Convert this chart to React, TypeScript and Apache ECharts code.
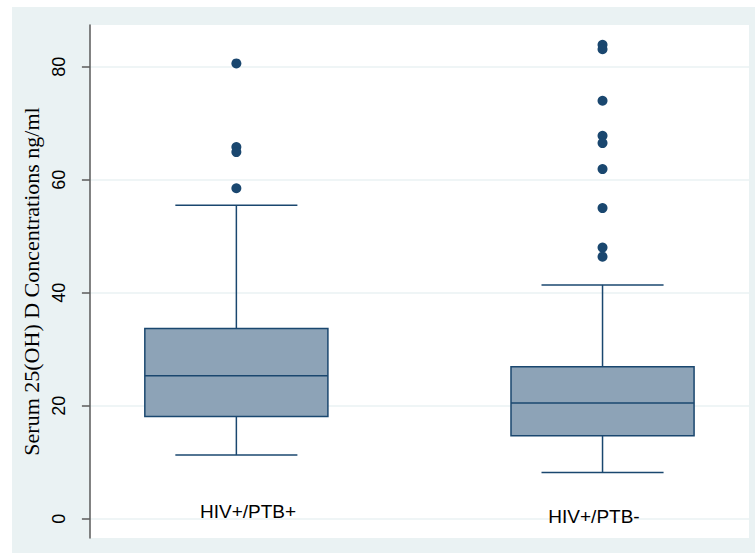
import React, { useEffect, useRef } from "react";
import * as echarts from "echarts";

const categories = ["HIV+/PTB+", "HIV+/PTB-"];
const whiskerLow = [11.3, 8.2];
const q1 = [18.1, 14.7];
const median = [25.3, 20.5];
const q3 = [33.7, 26.9];
const whiskerHigh = [55.5, 41.4];
const outliersA = [80.6, 65.8, 64.9, 58.5];
const outliersB = [83.9, 83.1, 74.0, 67.8, 66.5, 61.9, 55.0, 48.0, 46.4];
const yTicks = [0, 20, 40, 60, 80];
const yTitle = "Serum 25(OH) D Concentrations ng/ml";

const NAVY = "#1A476F";
const FILL = "#8DA3B7";
const BG = "#EAF2F3";

export default function App() {
  const ref = useRef<HTMLDivElement>(null);
  useEffect(() => {
    if (!ref.current) return;
    const chart = echarts.init(ref.current, undefined, { renderer: "svg" });
    const boxData = categories.map((c, i) => [i + 1, whiskerLow[i], q1[i], median[i], q3[i], whiskerHigh[i]]);
    const outlierData = [
      ...outliersA.map((v) => [1, v]),
      ...outliersB.map((v) => [2, v]),
    ];
    const labelPos = [
      [236, 504.5],
      [582, 509.5],
    ];
    chart.setOption({
      animation: false,
      grid: { left: 76, right: 6, top: 18, bottom: 15, show: true, backgroundColor: "#ffffff", borderWidth: 0 },
      xAxis: { type: "value", min: 0.6, max: 2.4, show: false, splitLine: { show: false } },
      yAxis: {
        type: "value",
        min: -3.4,
        max: 87.4,
        name: yTitle,
        nameLocation: "middle",
        nameRotate: 90,
        nameGap: 47,
        nameTextStyle: { fontFamily: "Liberation Serif", fontSize: 22, color: "#000" },
        axisLine: { show: true, lineStyle: { color: "#5a5a5a", width: 1.5 } },
        axisTick: { show: true, length: 8, customValues: yTicks, lineStyle: { color: "#5a5a5a", width: 1.5 } },
        axisLabel: {
          customValues: yTicks,
          rotate: 90,
          margin: 22,
          fontFamily: "Liberation Sans",
          fontSize: 18,
          color: "#000",
        },
        splitLine: { show: true, lineStyle: { color: BG, width: 1.5 } },
      },
      graphic: categories.map((c, i) => ({
        type: "text",
        x: labelPos[i][0],
        y: labelPos[i][1],
        z: 100,
        style: {
          text: c,
          fontFamily: "Liberation Sans",
          fontSize: 19,
          fill: "#000",
          textAlign: "center",
          textVerticalAlign: "middle",
        },
      })),
      series: [
        {
          type: "custom",
          data: boxData,
          encode: { x: 0, y: [1, 2, 3, 4, 5] },
          renderItem: (params: any, api: any) => {
            const x = api.value(0);
            const lo = api.coord([x, api.value(1)]);
            const b1 = api.coord([x, api.value(2)]);
            const md = api.coord([x, api.value(3)]);
            const b3 = api.coord([x, api.value(4)]);
            const hi = api.coord([x, api.value(5)]);
            const bw = api.size([0.5, 0])[0];
            const cw = api.size([1 / 3, 0])[0];
            const style = { stroke: NAVY, lineWidth: 1.5 };
            return {
              type: "group",
              children: [
                { type: "line", shape: { x1: lo[0], y1: lo[1], x2: lo[0], y2: b1[1] }, style },
                { type: "line", shape: { x1: hi[0], y1: hi[1], x2: hi[0], y2: b3[1] }, style },
                { type: "line", shape: { x1: lo[0] - cw / 2, y1: lo[1], x2: lo[0] + cw / 2, y2: lo[1] }, style },
                { type: "line", shape: { x1: hi[0] - cw / 2, y1: hi[1], x2: hi[0] + cw / 2, y2: hi[1] }, style },
                {
                  type: "rect",
                  shape: { x: b3[0] - bw / 2, y: b3[1], width: bw, height: b1[1] - b3[1] },
                  style: { fill: FILL, stroke: NAVY, lineWidth: 1.5 },
                },
                { type: "line", shape: { x1: md[0] - bw / 2, y1: md[1], x2: md[0] + bw / 2, y2: md[1] }, style },
              ],
            };
          },
        },
        {
          type: "scatter",
          data: outlierData,
          symbol: "circle",
          symbolSize: 10,
          itemStyle: { color: NAVY, opacity: 1 },
        },
      ],
    });
    return () => chart.dispose();
  }, []);
  return (
    <div
      ref={ref}
      style={{ position: "fixed", left: 12, top: 7, width: 743, height: 546, background: BG }}
    />
  );
}
